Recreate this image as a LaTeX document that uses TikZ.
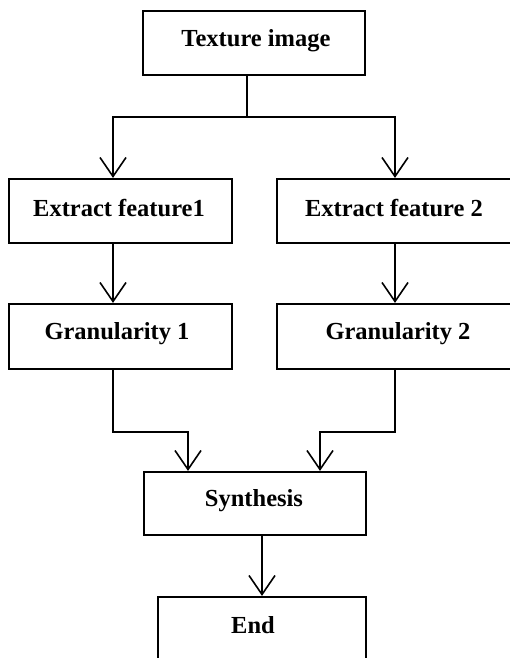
\documentclass[tikz,border=0pt]{standalone}
\usepackage{fontspec}
\setmainfont{Liberation Serif}
\usetikzlibrary{arrows.meta}

\tikzset{
  box/.style={draw, line width=2.2pt, rectangle, inner sep=0pt},
  lbl/.style={font=\fontsize{24.5}{26}\selectfont\bfseries, inner sep=0pt},
  link/.style={line width=1.8pt},
  arr/.style={link, -{Straight Barb[length=19pt,width=26pt,line width=1.6pt]}},
}

\begin{document}
\begin{tikzpicture}[x=1pt,y=-1pt]
  \useasboundingbox (0,0) rectangle (510,658);

  % boxes
  \node[box, minimum width=222pt, minimum height=64pt] (tex) at (254,43) {};
  \node[box, minimum width=223pt, minimum height=64pt] (ef1) at (120.5,211) {};
  \node[box, minimum width=236pt, minimum height=64pt] (ef2) at (395,211) {};
  \node[box, minimum width=223pt, minimum height=65pt] (g1) at (120.5,336.5) {};
  \node[box, minimum width=236pt, minimum height=65pt] (g2) at (395,336.5) {};
  \node[box, minimum width=222pt, minimum height=63pt] (syn) at (255,503.5) {};
  \node[box, minimum width=208pt, minimum height=64pt] (end) at (262,629) {};

  % captions
  \node[lbl] (tex-t) at (256,41) {Texture image};
  \node[lbl] (ef1-t) at (119,208) {Extract feature1};
  \node[lbl] (ef2-t) at (394,208) {Extract feature 2};
  \node[lbl] (g1-t)  at (117,334) {Granularity 1};
  \node[lbl] (g2-t)  at (398,334) {Granularity 2};
  \node[lbl] (syn-t) at (254,501) {Synthesis};
  \node[lbl] (end-t) at (253,625) {End};

  % split below the input
  \coordinate (split) at (247,117);
  \draw[link] (tex.south -| split) -- (split);
  \draw[arr] (split) -| ([xshift=-7.5pt]ef1.north);
  \draw[arr] (split) -| (ef2.north);

  % feature to granularity
  \draw[arr] ([xshift=-7.5pt]ef1.south) -- ([xshift=-7.5pt]g1.north);
  \draw[arr] (ef2.south) -- (g2.north);

  % merge into synthesis
  \draw[arr] ([xshift=-7.5pt]g1.south) -- ++(0,62) -| ([xshift=-67pt]syn.north);
  \draw[arr] (g2.south) -- ++(0,62) -| ([xshift=65pt]syn.north);

  % final step
  \draw[arr] ([xshift=7pt]syn.south) -- ([xshift=7pt]syn.south |- end.north);
\end{tikzpicture}
\end{document}
